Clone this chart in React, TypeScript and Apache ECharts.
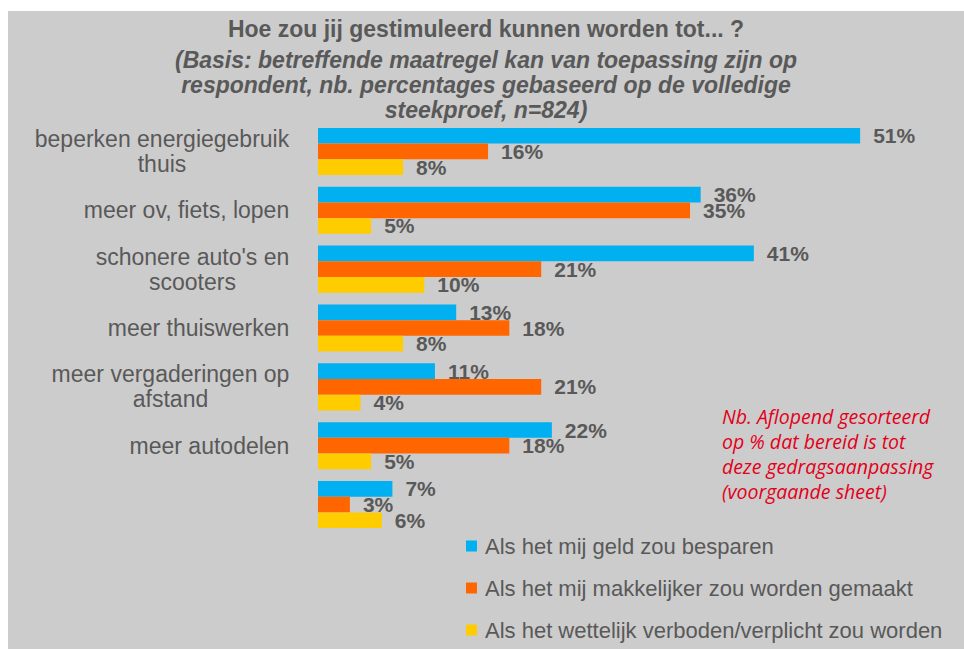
import React, { useEffect, useRef } from "react";
import * as echarts from "echarts";

const categories = [
  "beperken energiegebruik\nthuis",
  "meer ov, fiets, lopen",
  "schonere auto's en\nscooters",
  "meer thuiswerken",
  "meer vergaderingen op\nafstand",
  "meer autodelen",
  "",
];
const seriesNames = [
  "Als het mij geld zou besparen",
  "Als het mij makkelijker zou worden gemaakt",
  "Als het wettelijk verboden/verplicht zou worden",
];
const geldValues = [51, 36, 41, 13, 11, 22, 7];
const makkelijkerValues = [16, 35, 21, 18, 21, 18, 3];
const wettelijkValues = [8, 5, 10, 8, 4, 5, 6];
const seriesColors = ["#00B0F0", "#FF6600", "#FFCC00"];

const titleText = "Hoe zou jij gestimuleerd kunnen worden tot... ?";
const subText =
  "(Basis: betreffende maatregel kan van toepassing zijn op\nrespondent, nb. percentages gebaseerd op de volledige\nsteekproef, n=824)";
const noteText =
  "Nb. Aflopend gesorteerd\nop % dat bereid is tot\ndeze gedragsaanpassing\n(voorgaande sheet)";

const FONT = '"Liberation Sans", Arial, sans-serif';
const TXT = "#595959";
const CAT_SIZE = 23;

function measure(text: string): number {
  const c = document.createElement("canvas");
  const ctx = c.getContext("2d");
  if (!ctx) return text.length * 11;
  ctx.font = `${CAT_SIZE}px "Liberation Sans", Arial, sans-serif`;
  return ctx.measureText(text).width;
}

export default function App() {
  const ref = useRef<HTMLDivElement>(null);
  useEffect(() => {
    document.body.style.margin = "0";
    if (!ref.current) return;
    const chart = echarts.init(ref.current, undefined, { renderer: "svg" });

    const rich: Record<string, any> = {};
    categories.forEach((c, i) => {
      const lines = c.split("\n");
      const w = Math.ceil(Math.max(...lines.map((l) => measure(l)))) + 1;
      rich["c" + i] = {
        width: w,
        align: "center",
        fontSize: CAT_SIZE,
        lineHeight: 25,
        color: TXT,
        fontFamily: FONT,
      };
    });

    const values = [geldValues, makkelijkerValues, wettelijkValues];

    chart.setOption({
      animation: false,
      backgroundColor: "#CCCCCC",
      title: {
        text: titleText,
        subtext: subText,
        left: "center",
        top: 1,
        itemGap: 6,
        textStyle: {
          fontFamily: FONT,
          fontSize: 23,
          fontWeight: "bold",
          color: TXT,
          lineHeight: 24,
        },
        subtextStyle: {
          fontFamily: FONT,
          fontSize: 23,
          fontWeight: "bold",
          fontStyle: "italic",
          color: TXT,
          lineHeight: 25,
        },
      },
      legend: {
        orient: "vertical",
        left: 458,
        top: 524,
        padding: 0,
        itemGap: 20,
        itemWidth: 11,
        itemHeight: 11,
        icon: "rect",
        data: seriesNames,
        textStyle: {
          fontFamily: FONT,
          fontSize: 22,
          lineHeight: 22,
          color: TXT,
          padding: [0, 0, 0, 3],
        },
      },
      grid: { left: 310, top: 111, height: 412, width: 637.8 },
      xAxis: { type: "value", min: 0, max: 60, show: false },
      yAxis: {
        type: "category",
        inverse: true,
        data: categories,
        axisLine: { show: false },
        axisTick: { show: false },
        splitLine: { show: false },
        axisLabel: {
          margin: 28,
          formatter: (v: string, i: number) =>
            v === ""
              ? ""
              : v
                  .split("\n")
                  .map((l) => `{c${i}|${l}}`)
                  .join("\n"),
          rich,
        },
      },
      series: seriesNames.map((name, si) => ({
        name,
        type: "bar",
        data: values[si],
        barGap: "0%",
        barCategoryGap: "20%",
        itemStyle: { color: seriesColors[si] },
        label: {
          show: true,
          position: "right",
          distance: 13,
          formatter: "{c}%",
          fontFamily: FONT,
          fontSize: 21,
          fontWeight: "bold",
          color: TXT,
        },
      })),
      graphic: [
        {
          type: "text",
          left: 714,
          top: 393,
          style: {
            text: noteText,
            font: 'italic 19.5px "Open Sans", Lato, sans-serif',
            fill: "#E2001A",
            lineHeight: 25,
          },
        },
      ],
    });
    return () => chart.dispose();
  }, []);
  return (
    <div style={{ position: "fixed", left: 0, top: 0, width: 964, height: 649, background: "#fff" }}>
      <div
        ref={ref}
        style={{ position: "absolute", left: 8, top: 11, width: 956, height: 638 }}
      />
    </div>
  );
}
